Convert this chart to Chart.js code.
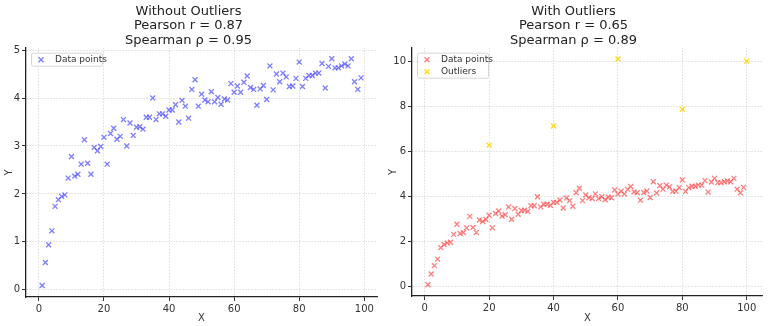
<!DOCTYPE html>
<html>
<head>
<meta charset="utf-8">
<script src="https://cdn.jsdelivr.net/npm/chart.js@4"></script>
<style>
  html, body { margin: 0; padding: 0; background: #fff; }
  .wrap { position: absolute; top: 0; width: 384px; height: 326px; }
  #w1 { left: 0; }
  #w2 { left: 384px; }
</style>
</head>
<body>
<div class="wrap" id="w1"><canvas id="chartSem"></canvas></div>
<div class="wrap" id="w2"><canvas id="chartCom"></canvas></div>
<script>
// x = 1..99
const xValues = [];
for (let i = 1; i <= 99; i++) xValues.push(i);

// valores
const yValues = [
  0.09, 0.57, 0.94, 1.23, 1.74, 1.88, 1.95, 1.98, 2.33, 2.78,
  2.37, 2.41, 2.62, 3.13, 2.64, 2.41, 2.97, 2.90, 2.99, 3.18,
  2.62, 3.26, 3.37, 3.14, 3.20, 3.55, 3.00, 3.48, 3.22, 3.39,
  3.40, 3.35, 3.60, 3.60, 4.00, 3.55, 3.67, 3.67, 3.62, 3.75,
  3.75, 3.86, 3.50, 3.95, 3.83, 3.58, 4.18, 4.38, 3.83, 4.08,
  3.96, 3.92, 4.13, 3.92, 4.01, 3.87, 3.98, 3.96, 4.30, 4.12,
  4.25, 4.12, 4.33, 4.46, 4.22, 4.18, 3.85, 4.19, 4.26, 3.97,
  4.67, 4.17, 4.50, 4.34, 4.52, 4.44, 4.24, 4.25, 4.41, 4.75,
  4.24, 4.41, 4.47, 4.47, 4.52, 4.52, 4.72, 4.21, 4.66, 4.82,
  4.63, 4.63, 4.67, 4.71, 4.67, 4.82, 4.34, 4.18, 4.42
];

const outlierX = [20, 40, 60, 80, 100];
const outlierY = [6.30, 7.15, 10.13, 7.89, 10.03];

const xTicks = [0, 20, 40, 60, 80, 100];
const yTicksSem = [0, 1, 2, 3, 4, 5];
const yTicksCom = [0, 2, 4, 6, 8, 10];

const tituloSem = ['Without Outliers', 'Pearson r = 0.87', 'Spearman \u03c1 = 0.95'];
const tituloCom = ['With Outliers', 'Pearson r = 0.65', 'Spearman \u03c1 = 0.89'];

function pontos(xs, ys) {
    return xs.map((x, i) => ({ x: x, y: ys[i] }));
}

// legenda desenhada dentro da área do gráfico
const legendaInterna = {
    id: 'legendaInterna',
    afterDatasetsDraw(chart) {
        const ctx = chart.ctx;
        const area = chart.chartArea;
        const sets = chart.data.datasets;
        const rowH = 12;
        const x0 = area.left + 5;
        const y0 = area.top + 5;
        const w = 71;
        const h = sets.length * rowH + 1;
        ctx.save();
        ctx.fillStyle = 'rgba(255,255,255,0.85)';
        ctx.strokeStyle = '#d6d6d6';
        ctx.lineWidth = 1;
        ctx.beginPath();
        ctx.roundRect(x0 + 0.5, y0 + 0.5, w, h, 2);
        ctx.fill();
        ctx.stroke();
        ctx.font = '9px "DejaVu Sans"';
        ctx.textBaseline = 'middle';
        sets.forEach((ds, i) => {
            const cy = y0 + 7 + i * rowH;
            const cx = x0 + 10;
            ctx.strokeStyle = ds.borderColor;
            ctx.lineWidth = 1.3;
            ctx.beginPath();
            ctx.moveTo(cx - 2.5, cy - 2.5); ctx.lineTo(cx + 2.5, cy + 2.5);
            ctx.moveTo(cx - 2.5, cy + 2.5); ctx.lineTo(cx + 2.5, cy - 2.5);
            ctx.stroke();
            ctx.fillStyle = '#333';
            ctx.fillText(ds.label, x0 + 24, cy);
        });
        ctx.restore();
    }
};

function eixo(min, max, ticks, titulo, isX, tamanho) {
    return {
        type: 'linear',
        min: min,
        max: max,
        afterBuildTicks: (axis) => { axis.ticks = ticks.map(v => ({ value: v })); },
        afterFit: (axis) => {
            if (isX) axis.height = tamanho; else axis.width = tamanho;
        },
        ticks: {
            color: '#333',
            font: { family: 'DejaVu Sans', size: 10 },
            padding: 2,
            maxRotation: 0,
            autoSkip: false
        },
        grid: {
            color: '#d4d4d4',
            lineWidth: 0.8,
            drawTicks: true,
            tickLength: 4,
            tickColor: '#333',
            tickWidth: 1
        },
        border: { display: true, color: '#222', width: 1.3, dash: [1.5, 1.5] },
        title: {
            display: true,
            text: titulo,
            color: '#333',
            font: { family: 'DejaVu Sans', size: 10 },
            padding: { top: 3, bottom: 2 }
        }
    };
}

function criarGrafico(id, datasets, titulo, yMin, yMax, yTicks, yWidth, xMax, xHeight, padRight) {
    const ctx = document.getElementById(id).getContext('2d');
    return new Chart(ctx, {
        type: 'scatter',
        data: { datasets: datasets },
        options: {
            responsive: true,
            maintainAspectRatio: false,
            animation: false,
            layout: { padding: { left: 0, right: padRight, top: 0, bottom: 0 } },
            plugins: {
                legend: { display: false },
                tooltip: { enabled: false },
                title: {
                    display: true,
                    text: titulo,
                    color: '#222',
                    font: { family: 'DejaVu Sans', size: 13, weight: 'normal', lineHeight: 1.12 },
                    padding: { top: 4, bottom: 0 }
                }
            },
            scales: {
                x: eixo(-3.95, xMax, xTicks, 'X', true, xHeight),
                y: eixo(yMin, yMax, yTicks, 'Y', false, yWidth)
            }
        },
        plugins: [legendaInterna]
    });
}

function estiloPonto(cor) {
    return {
        pointStyle: 'crossRot',
        pointRadius: 3.5,
        pointBorderWidth: 1.3,
        borderColor: cor,
        backgroundColor: cor,
        showLine: false
    };
}

criarGrafico('chartSem', [
    Object.assign({ label: 'Data points', data: pontos(xValues, yValues) }, estiloPonto('rgba(70,70,255,0.7)'))
], tituloSem, -0.15, 5.05, yTicksSem, 26, 103.9, 29, 7);

criarGrafico('chartCom', [
    Object.assign({ label: 'Data points', data: pontos(xValues, yValues) }, estiloPonto('rgba(255,70,70,0.7)')),
    Object.assign({ label: 'Outliers', data: pontos(outlierX, outlierY) }, estiloPonto('rgba(255,212,0,0.9)'))
], tituloCom, -0.41, 10.63, yTicksCom, 28, 104.95, 30, 5);
</script>
</body>
</html>
